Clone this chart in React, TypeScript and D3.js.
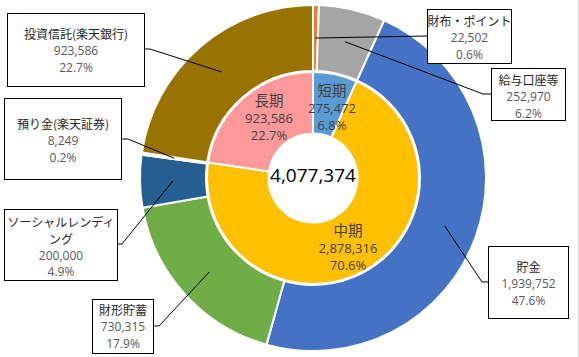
import React from "react";
import * as d3 from "d3";

const outerLabels = ["財布・ポイント", "給与口座等", "貯金", "財形貯蓄", "ソーシャルレンディング", "預り金(楽天証券)", "投資信託(楽天銀行)"];
const outerValues = [22502, 252970, 1939752, 730315, 200000, 8249, 923586];
const outerColors = ["#ED7D31", "#A5A5A5", "#4472C4", "#70AD47", "#255E91", "#FFFFFF", "#997300"];

const innerLabels = ["短期", "中期", "長期"];
const innerValues = [275472, 2878316, 923586];
const innerColors = ["#5B9BD5", "#FFC000", "#FF9999"];

// label box layout (x, y, w, h, elbow x/y, text lines and their y positions)
const boxLayout = [
  { x: 427, y: 9, w: 84, h: 54, ex: 427, ey: 36, lines: ["財布・ポイント"], ty: [20, 37, 54] },
  { x: 491, y: 68, w: 74, h: 52, ex: 483, ey: 94, lines: ["給与口座等"], ty: [79, 96, 113] },
  { x: 488, y: 246, w: 80, h: 72, ex: 482, ey: 282, lines: ["貯金"], ty: [266, 283, 300] },
  { x: 92, y: 299, w: 61, h: 54, ex: 159, ey: 326, lines: ["財形貯蓄"], ty: [309, 326, 343] },
  { x: 4, y: 209, w: 113, h: 71, ex: 122, ey: 244, lines: ["ソーシャルレンディ", "ング"], ty: [221, 238, 255, 271] },
  { x: 4, y: 98, w: 117, h: 81, ex: 128, ey: 139, lines: ["預り金(楽天証券)"], ty: [123, 140, 157] },
  { x: 7, y: 13, w: 137, h: 73, ex: 150, ey: 49, lines: ["投資信託(楽天銀行)"], ty: [33, 50, 67] },
];

const W = 579;
const H = 357;
const cx = 313;
const cy = 178;
const rOuter = 173;
const rMid = 107;
const rHole = 44.5;

const fmt = d3.format(",");
const numFont = "'Open Sans', 'Noto Sans', sans-serif";
const jpFont = "'Noto Sans CJK JP', sans-serif";

export default function App() {
  const total = d3.sum(outerValues);
  const pie = d3.pie<number>().sort(null).value((d) => d);
  const outerArcs = pie(outerValues);
  const innerArcs = pie(innerValues);
  const outerArc = d3.arc<d3.PieArcDatum<number>>().innerRadius(rMid).outerRadius(rOuter);
  const innerArc = d3.arc<d3.PieArcDatum<number>>().innerRadius(rHole).outerRadius(rMid - 1);
  const pct = (v: number) => ((v / total) * 100).toFixed(1) + "%";

  const innerLabelPos = [
    [19, -89],
    [35, 51],
    [-44, -79],
  ];

  return (
    <svg width={W} height={H} style={{ position: "absolute", left: 0, top: 0, background: "#fff" }}>
      <rect x={0} y={0} width={W} height={H} fill="#fff" />
      <line x1={578.5} y1={0} x2={578.5} y2={H} stroke="#D9D9D9" strokeWidth={1} />
      <g transform={`translate(${cx},${cy})`}>
        {outerArcs.map((a, i) => (
          <path key={"o" + i} d={outerArc(a) || ""} fill={outerColors[i]} stroke="#fff" strokeWidth={2} />
        ))}
        {innerArcs.map((a, i) => (
          <path key={"i" + i} d={innerArc(a) || ""} fill={innerColors[i]} stroke="#fff" strokeWidth={2} />
        ))}
        {innerArcs.map((a, i) => {
          const [lx, ly] = innerLabelPos[i];
          return (
            <g key={"il" + i} fill="#404040" textAnchor="middle">
              <text x={lx} y={ly} fontSize={14.5} fontFamily={jpFont} dominantBaseline="central">{innerLabels[i]}</text>
              <text x={lx} y={ly + 19} fontSize={13} fontFamily={numFont} dominantBaseline="central">{fmt(innerValues[i])}</text>
              <text x={lx} y={ly + 36} fontSize={13} fontFamily={numFont} dominantBaseline="central">{pct(innerValues[i])}</text>
            </g>
          );
        })}
        <text x={0} y={-3} textAnchor="middle" dominantBaseline="central" fontSize={19} fontFamily={numFont} fill="#000">
          {fmt(total)}
        </text>
      </g>
      {outerArcs.map((a, i) => {
        const b = boxLayout[i];
        const [px, py] = outerArc.centroid(a);
        const rightSide = b.x > cx;
        const edge = rightSide ? b.x : b.x + b.w;
        const tx = b.x + b.w / 2 + 0.5;
        return (
          <g key={"b" + i}>
            <polyline
              points={`${cx + px},${cy + py} ${b.ex},${b.ey} ${edge},${b.ey}`}
              fill="none"
              stroke="#000"
              strokeWidth={1}
            />
            <rect x={b.x + 0.5} y={b.y + 0.5} width={b.w} height={b.h} fill="#fff" stroke="#000" strokeWidth={1} />
            {b.lines.map((ln, k) => (
              <text key={k} x={tx} y={b.ty[k]} textAnchor="middle" dominantBaseline="central" fontSize={12} fontFamily={jpFont} fill="#262626">
                {ln}
              </text>
            ))}
            <text x={tx} y={b.ty[b.lines.length]} textAnchor="middle" dominantBaseline="central" fontSize={12} fontFamily={numFont} fill="#595959">
              {fmt(outerValues[i])}
            </text>
            <text x={tx} y={b.ty[b.lines.length + 1]} textAnchor="middle" dominantBaseline="central" fontSize={12} fontFamily={numFont} fill="#595959">
              {pct(outerValues[i])}
            </text>
          </g>
        );
      })}
    </svg>
  );
}
